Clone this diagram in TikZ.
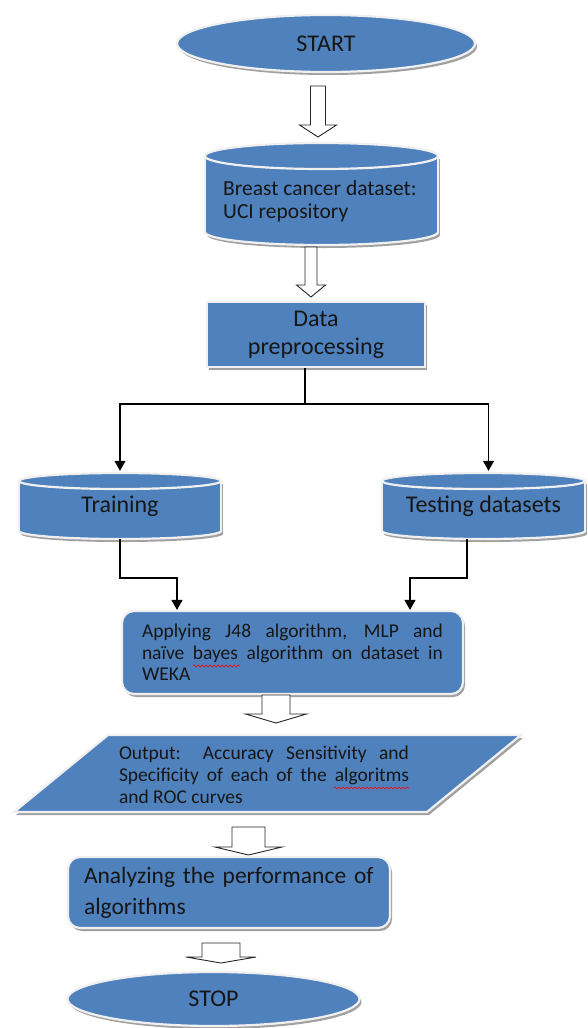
\documentclass[tikz,border=0pt]{standalone}
\usepackage{fontspec}
\setmainfont{Carlito}
\usetikzlibrary{shapes.geometric,arrows.meta,shadows,decorations.pathmorphing}
\definecolor{boxblue}{HTML}{4F81BD}
\definecolor{txt}{HTML}{161616}
\definecolor{rim}{HTML}{F0F0F0}
\definecolor{shade}{HTML}{A0A0A0}
\tikzset{
  shp/.style={fill=boxblue, draw=rim, line width=2.2pt},
  rimline/.style={draw=rim, line width=2.2pt},
  shd/.style={fill=shade, draw=none},
  dshadow/.style={drop shadow={shadow xshift=2pt,shadow yshift=-3pt,fill=shade,opacity=1}},
  lbl/.style={text=txt, font=\fontsize{24}{28}\selectfont, inner sep=0pt},
  connline/.style={draw=black, line width=1.2pt},
  conn/.style={draw=black, line width=1.2pt, -{Triangle[length=10pt,width=11pt]}},
  barrowsty/.style={draw=black!85, fill=white, line width=0.9pt, line join=miter},
  spellmark/.style={draw=red, line width=0.6pt, decorate, decoration={snake, segment length=4pt, amplitude=1pt}},
}
% block arrow: center x, top y, shaft half width, head half width, head start y, tip y
\newcommand\barrow[6]{%
  \draw[barrowsty] (#1-#3,#2) -- (#1+#3,#2) -- (#1+#3,#5) -- (#1+#4,#5) -- (#1,#6)
    -- (#1-#4,#5) -- (#1-#3,#5) -- cycle;}
% cylinder: center x, top y, bottom y, x radius, y radius
\newcommand\cyl[5]{%
  \pgfmathsetmacro\cyT{#2+#5}\pgfmathsetmacro\cyB{#3-#5}%
  \fill[shd] (#1-#4+2,\cyT+3) rectangle (#1+#4+2,\cyB+3);
  \fill[shd] (#1+2,\cyB+3) ellipse [x radius=#4, y radius=#5];
  \draw[shp] (#1,\cyB) ellipse [x radius=#4, y radius=#5];
  \fill[boxblue] (#1-#4,\cyT) rectangle (#1+#4,\cyB);
  \draw[rimline] (#1-#4,\cyT) -- (#1-#4,\cyB) (#1+#4,\cyT) -- (#1+#4,\cyB);
  \draw[shp] (#1,\cyT) ellipse [x radius=#4, y radius=#5];}
\begin{document}
\begin{tikzpicture}[x=1pt,y=-1pt]
\fill[white] (0,0) rectangle (588,1028);
\useasboundingbox (0,0) rectangle (588,1028);

% START
\node[ellipse, shp, dshadow, minimum width=298pt, minimum height=57pt, lbl] (start) at (326,43.5) {START};
\barrow{318}{86}{7.5}{18.5}{125}{137}

% Breast cancer dataset
\cyl{321.5}{143}{245}{116.5}{13}
\node[lbl, font=\fontsize{21.5}{23}\selectfont, align=left, anchor=west] (bc) at (223,201) {Breast cancer dataset:\\UCI repository};
\barrow{311}{247}{6}{14.5}{285}{297}

% Data preprocessing
\node[rectangle, shp, dshadow, minimum width=218pt, minimum height=65pt, lbl, align=center] (dp) at (316,334.5) {Data\\preprocessing};

% Training / Testing
\cyl{120}{473}{539}{101}{8}
\node[lbl, minimum width=202pt, minimum height=66pt] (train) at (120,506) {Training};
\cyl{483.5}{473}{539}{101.5}{8}
\node[lbl, minimum width=203pt, minimum height=66pt] (test) at (483.5,506) {Testing datasets};

\coordinate (split) at (305,404);
\draw[connline] (dp.south -| split) -- (split);
\draw[conn, shorten >=2pt] (split) -| (train.north);
\draw[conn, shorten >=2pt] (split) -| ([xshift=5pt]test.north);

% Applying
\node[rectangle, rounded corners=12pt, shp, dshadow, minimum width=341pt, minimum height=83pt,
      text width=301pt, align=justify, text=txt, inner sep=0pt, font=\fontsize{19.5}{21.5}\selectfont] (apply) at (292.5,652.5)
  {Applying J48 algorithm, MLP and\linebreak na\"ive bayes algorithm on dataset in\linebreak WEKA};
\coordinate (w1a) at (193,666);
\coordinate (w1b) at (240,666);
\draw[spellmark] (w1a) -- (w1b);

\coordinate (tj) at (177,578);
\coordinate (sj) at (410,578);
\draw[conn] (train.south) |- (tj) -- (tj |- apply.north);
\draw[conn] ([xshift=-16.5pt]test.south) |- (sj) -- (sj |- apply.north);

\barrow{276}{695}{14}{30.5}{714}{723}

% Output parallelogram
\draw[shp, dshadow] (108,735) -- (521,735) -- (427,812) -- (14,812) -- cycle;
\node[text width=290pt, align=justify, text=txt, inner sep=0pt, font=\fontsize{19.5}{22}\selectfont] (out) at (264,775)
  {Output: Accuracy Sensitivity and\linebreak Specificity of each of the algoritms\linebreak and ROC curves};
\coordinate (w2a) at (334,788);
\coordinate (w2b) at (409,788);
\draw[spellmark] (w2a) -- (w2b);

\barrow{248.5}{827}{16.5}{33.5}{847}{855}

% Analyzing
\node[rectangle, rounded corners=12pt, shp, dshadow, minimum width=322pt, minimum height=71pt,
      text width=290pt, align=left, text=txt, inner sep=0pt, font=\fontsize{23.5}{31}\selectfont] (ana) at (229,892.5)
  {Analyzing the performance of\\algorithms};

\barrow{221}{943}{19}{35}{957}{963}

% STOP
\node[ellipse, shp, dshadow, minimum width=292pt, minimum height=54pt, lbl] (stop) at (213.5,999) {STOP};
\end{tikzpicture}
\end{document}
